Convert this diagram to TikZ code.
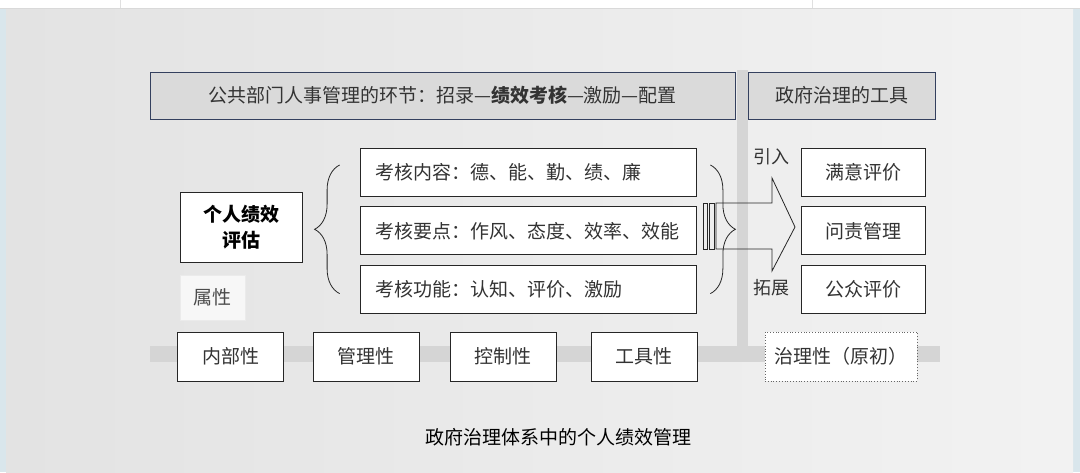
\documentclass[tikz,border=0pt]{standalone}
\usepackage{fontspec}
\setmainfont{Noto Sans CJK SC}
\usetikzlibrary{positioning,decorations.pathreplacing}
\definecolor{frame}{HTML}{D9E6EC}
\definecolor{band}{HTML}{D5D5D5}
\definecolor{ink}{HTML}{333333}
\definecolor{navy}{HTML}{34405E}
\definecolor{head}{HTML}{DADADA}

\begin{document}
\begin{tikzpicture}[x=1pt,y=1pt,node distance=10pt,
  every node/.style={text=ink,font=\fontsize{19}{26}\selectfont},
  head/.style={draw=navy,fill=head,line width=0.9pt,minimum height=47pt},
  box/.style={draw=black!85,fill=white,line width=0.8pt,minimum height=48pt},
  itembox/.style={box,text width=306pt,inner xsep=15pt,align=left},
  propbox/.style={box,minimum width=106pt,minimum height=49pt},
  bracket/.style={decorate,decoration={brace,amplitude=25pt},line width=0.8pt,black!85}]
  % slide background
  \useasboundingbox (0,0) rectangle (1080,472);
  \fill[frame] (0,0) rectangle (1080,472);
  \shade[left color=black!11,right color=black!5] (6,0) rectangle (1073,464);
  \fill[white] (0,464) rectangle (1080,472);
  \draw[black!15] (0,464) -- (1080,464);
  \draw[black!12] (120,464) -- (120,472) (812,464) -- (812,472);
  % grey rails
  \fill[band] (150,110) rectangle (940,126);
  \fill[band] (737,126) rectangle (748,402);
  % header
  \node[head,minimum width=585pt] (stage) at (442.5,376.5) {公共部门人事管理的环节：招录—\textbf{绩效考核}—激励—配置};
  \node[head,minimum width=187pt,right=13pt of stage] (tool) {政府治理的工具};
  % assessment
  \node[box,minimum width=122pt,minimum height=70pt,align=center,font=\fontsize{19}{26}\selectfont\bfseries,text=black] (indiv) at (241,245) {个人绩效\\评估};
  \node[itembox] (content) at (528,300) {考核内容：德、能、勤、绩、廉};
  \node[itembox,below=of content] (point) {考核要点：作风、态度、效率、效能};
  \node[itembox,below=of point] (func) {考核功能：认知、评价、激励};
  \node[draw=black!8,fill=white!45!black!6,minimum width=65pt,minimum height=45pt,text=black!70] (attr) at (212.5,174.5) {属性};
  \draw[bracket] ([xshift=-20pt,yshift=-4pt]func.west) -- ([xshift=-20pt,yshift=7pt]content.west);
  \draw[bracket] ([xshift=14pt,yshift=7pt]content.east) -- ([xshift=14pt,yshift=-4pt]func.east);
  % striped arrow
  \draw[line width=0.8pt,black!85] (703,223) rectangle (707,269) (709,223) rectangle (714,269);
  \draw[line width=0.8pt,black!85] (716,223) -- (772,223) -- (772,201) -- (795,245) -- (772,294) -- (772,269) -- (716,269) -- cycle;
  % governance tools
  \node[box,minimum width=124pt,right=105pt of content] (satisfy) {满意评价};
  \node[box,minimum width=124pt,right=105pt of point] (account) {问责管理};
  \node[box,minimum width=124pt,right=105pt of func] (public) {公众评价};
  \node[font=\fontsize{18}{22}\selectfont] (intro) at (771,315) {引入};
  \node[font=\fontsize{18}{22}\selectfont] (expand) at (771,184) {拓展};
  % properties
  \node[propbox] (inner) at (230.5,115.5) {内部性};
  \node[propbox,right=29pt of inner] (manage) {管理性};
  \node[propbox,right=30pt of manage] (control) {控制性};
  \node[propbox,right=34pt of control] (instr) {工具性};
  \node[draw=black!60,dotted,fill=white,line width=0.8pt,minimum width=152pt,minimum height=49pt] (govern) at (841,115.5) {治理性（原初）};
  % caption
  \node[text=black] (caption) at (558,35) {政府治理体系中的个人绩效管理};
\end{tikzpicture}
\end{document}
